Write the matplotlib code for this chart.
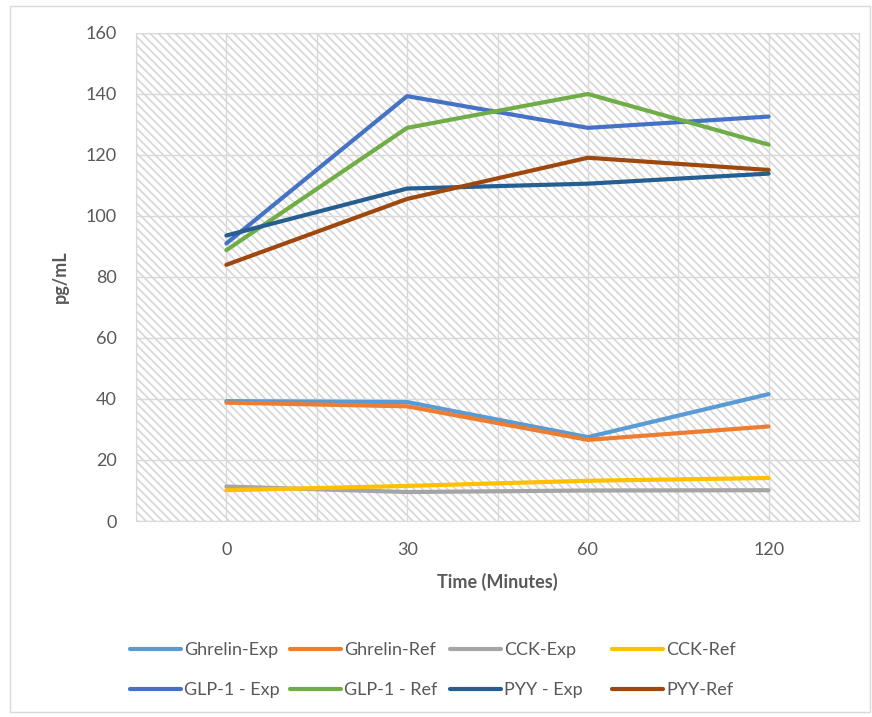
import matplotlib.pyplot as plt
import matplotlib.patches as mpatches
import numpy as np

plt.rcParams['font.family'] = ['Lato', 'DejaVu Sans']
plt.rcParams['hatch.color'] = '#d4d4d4'
plt.rcParams['hatch.linewidth'] = 1.3

# data
times = ['0', '30', '60', '120']
ghrelin_exp = [39.3, 39.0, 27.5, 41.6]
ghrelin_ref = [38.8, 37.6, 26.6, 31.0]
cck_exp = [11.3, 9.5, 10.0, 10.1]
cck_ref = [10.1, 11.5, 13.2, 14.1]
glp1_exp = [91.0, 139.3, 128.9, 132.6]
glp1_ref = [88.8, 128.9, 140.0, 123.4]
pyy_exp = [93.6, 109.0, 110.6, 113.9]
pyy_ref = [84.0, 105.6, 119.1, 115.1]

names = ['Ghrelin-Exp', 'Ghrelin-Ref', 'CCK-Exp', 'CCK-Ref',
         'GLP-1 - Exp', 'GLP-1 - Ref', 'PYY - Exp', 'PYY-Ref']
series = [ghrelin_exp, ghrelin_ref, cck_exp, cck_ref,
          glp1_exp, glp1_ref, pyy_exp, pyy_ref]
colors = ['#5B9BD5', '#ED7D31', '#A5A5A5', '#FFC000',
          '#4472C4', '#70AD47', '#255E91', '#9E480E']

txt = '#595959'
grid = '#d9d9d9'

fig = plt.figure(figsize=(8.72, 7.17), dpi=100)
ax = fig.add_axes([136/872, 1-521/717, (859-136)/872, (521-33)/717])

# outer chart border
fig.patches.append(mpatches.Rectangle((10/872, 1-712/717), 860/872, 706/717,
                                      transform=fig.transFigure, fill=False,
                                      edgecolor=grid, linewidth=1))

# hatched plot area
ax.add_patch(mpatches.Rectangle((0, 0), 1, 1, transform=ax.transAxes,
                                facecolor='white', hatch='\\\\\\\\',
                                edgecolor=grid, linewidth=0, zorder=0))

x = np.arange(len(times))
lines = []
for name, vals, c in zip(names, series, colors):
    l, = ax.plot(x, vals, color=c, linewidth=3, label=name,
                 solid_capstyle='round', zorder=3)
    lines.append(l)

ax.set_xlim(-0.5, 3.5)
ax.set_ylim(0, 160)
ax.set_xticks(x)
ax.set_xticklabels(times)
ax.set_xticks(np.arange(-0.5, 3.6, 1), minor=True)
ax.set_yticks(np.arange(0, 161, 20))
ax.grid(True, which='both', color=grid, linewidth=1, zorder=1)
ax.set_axisbelow(True)
ax.tick_params(which='both', length=0)
ax.tick_params(axis='y', pad=14, labelsize=13, labelcolor=txt)
ax.tick_params(axis='x', pad=15, labelsize=13, labelcolor=txt)
for s in ax.spines.values():
    s.set_color(grid)

ax.set_ylabel('pg/mL', fontsize=13, fontweight='bold', color=txt, labelpad=12)
ax.set_xlabel('Time (Minutes)', fontsize=13, fontweight='bold', color=txt, labelpad=11)

# legend: four columns of two rows, equal column widths
col_x = [130, 290, 450, 612]
for i, cx in enumerate(col_x):
    fig.legend([lines[i], lines[i+4]], [names[i], names[i+4]],
               loc='upper left', bbox_to_anchor=(cx/872, 1-642/717),
               frameon=False, fontsize=13, handlelength=2.8,
               handletextpad=0.2, labelspacing=1.35, borderpad=0,
               borderaxespad=0, labelcolor=txt)

fig.savefig('out.png', dpi=100)
